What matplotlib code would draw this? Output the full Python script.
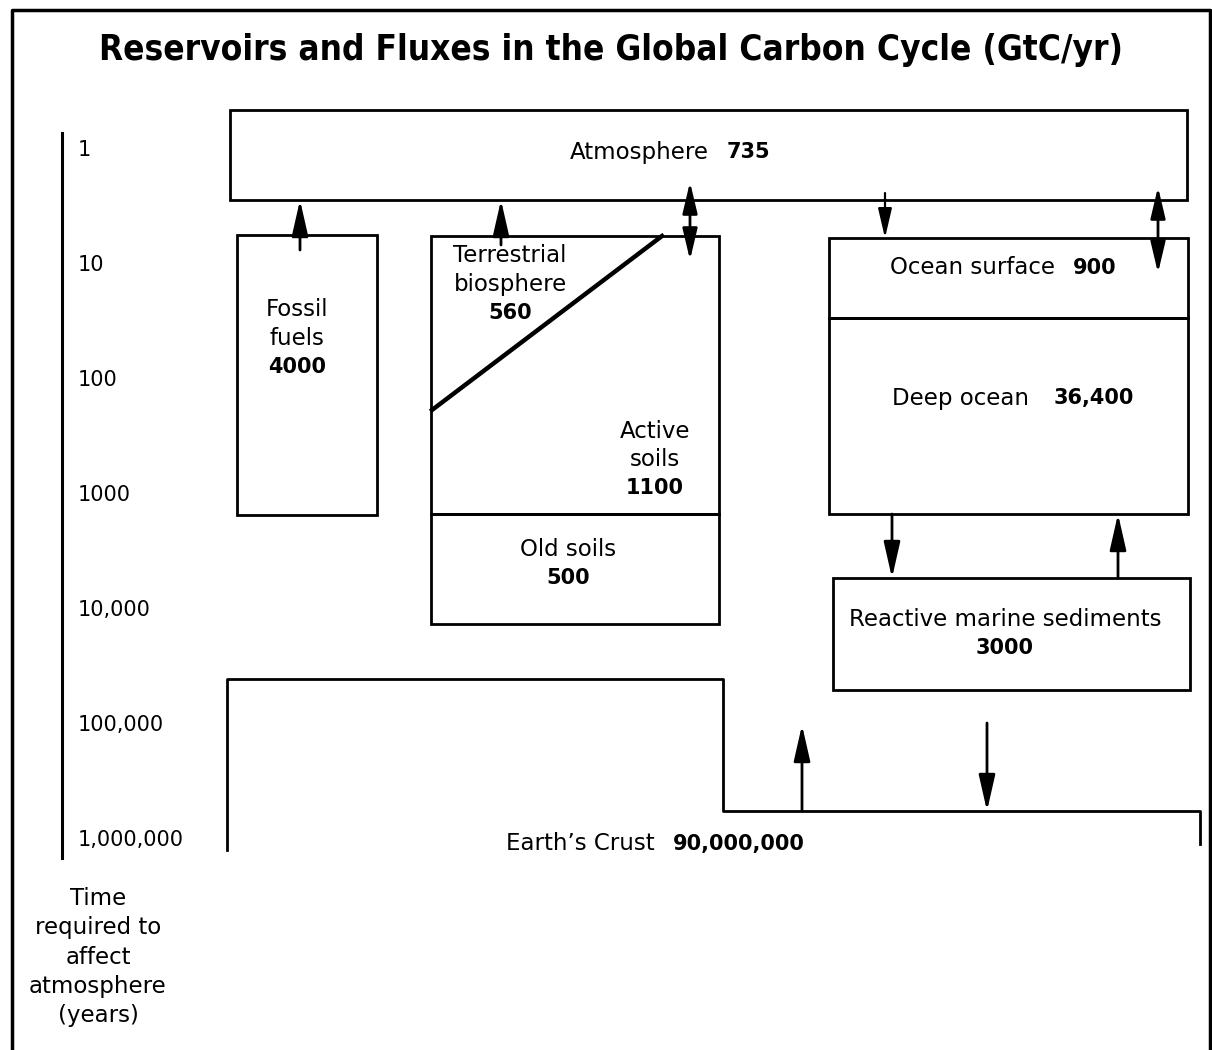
import matplotlib
matplotlib.use('Agg')
import matplotlib.pyplot as plt
import numpy as np
from matplotlib.patches import Rectangle

# Datos: reservorios de carbono (GtC)
reservoir_names = ['Atmosphere', 'Fossil\nfuels', 'Terrestrial\nbiosphere', 'Active\nsoils',
                   'Old soils', 'Ocean surface', 'Deep ocean', 'Reactive marine sediments',
                   'Earth\u2019s Crust']
reservoir_values = ['735', '4000', '560', '1100', '500', '900', '36,400', '3000', '90,000,000']

# Escala de tiempo (años) y etiquetas
time_ticks = [1, 10, 100, 1000, 10000, 100000, 1000000]
time_labels = ['1', '10', '100', '1000', '10,000', '100,000', '1,000,000']
axis_label = 'Time\nrequired to\naffect\natmosphere\n(years)'
title = 'Reservoirs and Fluxes in the Global Carbon Cycle (GtC/yr)'

FONT = ['DejaVu Sans']
FS = 16.5      # nombres
FSB = 15       # valores en negrita
FST = 15       # marcas del eje

fig = plt.figure(figsize=(12.12, 10.5), dpi=100)
ax = fig.add_axes([0, 0, 1, 1])
ax.set_xlim(0, 1212)
ax.set_ylim(1050, 0)
ax.axis('off')

# marco exterior
ax.plot([12, 12, 1210, 1210], [1050, 10, 10, 1050], color='black', lw=2.5)

ax.text(611, 50, title, ha='center', va='center', fontsize=25.2, fontweight='bold',
        family=['Liberation Sans Narrow', 'DejaVu Sans'], fontstretch='condensed')

# eje de tiempo (log)
def t2y(t):
    return 150 + 115 * np.log10(t)

ax.plot([62, 62], [133, 858], color='black', lw=2.2)
for t, lab in zip(time_ticks, time_labels):
    ax.text(78, t2y(t), lab, ha='left', va='center', fontsize=FST, family=FONT)
ax.text(98, 957, axis_label, ha='center', va='center', fontsize=FS, family=FONT,
        linespacing=1.36)

def box(x0, y0, x1, y1, lw=2):
    ax.add_patch(Rectangle((x0, y0), x1 - x0, y1 - y0, fill=False, edgecolor='black', lw=lw))

box(230, 110, 1187, 200)            # atmósfera
box(237, 235, 377, 515)             # combustibles fósiles
box(431, 236, 719, 514)             # biosfera + suelos activos
box(431, 514, 719, 624)             # suelos viejos
ax.plot([432, 662], [410, 236], color='black', lw=3.2)
box(829, 238, 1188, 318)            # océano superficial
box(829, 318, 1188, 514)            # océano profundo
box(833, 578, 1190, 690)            # sedimentos
# corteza terrestre
ax.plot([227, 227, 723, 723, 1200, 1200], [850, 679, 679, 811, 811, 844], color='black', lw=2)

def label(x, y, name, value, stack=False, gap=18):
    if '\n' in name or stack:
        lines = name.split('\n') + [value]
        for i, s in enumerate(lines):
            bold = i == len(lines) - 1
            ax.text(x, y + i * 28.5, s, ha='center', va='center', family=FONT,
                    fontsize=FSB if bold else FS, fontweight='bold' if bold else 'normal')
    else:
        ax.text(x - gap / 2, y, name, ha='right', va='center', fontsize=FS, family=FONT)
        ax.text(x + gap / 2, y, value, ha='left', va='center', fontsize=FSB, family=FONT,
                fontweight='bold')

label(718, 152, reservoir_names[0], reservoir_values[0])
label(297, 310, reservoir_names[1], reservoir_values[1])
label(510, 256, reservoir_names[2], reservoir_values[2])
label(655, 431, reservoir_names[3], reservoir_values[3])
label(568, 549, reservoir_names[4], reservoir_values[4], stack=True)
label(1064, 268, reservoir_names[5], reservoir_values[5])
label(1041, 398, reservoir_names[6], reservoir_values[6], gap=25)
label(1005, 619, reservoir_names[7], reservoir_values[7], stack=True)
label(664, 844, reservoir_names[8], reservoir_values[8])

# flujos
def arrow(x, y0, y1, style='-|>', hl=2.2, hw=0.5, lw=2):
    ax.annotate('', xy=(x, y1), xytext=(x, y0),
                arrowprops=dict(arrowstyle=f'{style},head_length={hl},head_width={hw}',
                                mutation_scale=10, lw=lw, color='black',
                                shrinkA=0, shrinkB=0))

arrow(300, 250, 200)
arrow(501, 245, 200)
arrow(690, 182, 260, style='<|-|>', hl=1.9, hw=0.45)
arrow(885, 193, 238, hl=1.8, hw=0.42, lw=1.6)
arrow(1158, 187, 273, style='<|-|>', hl=1.9, hw=0.45)
arrow(892, 514, 578)
arrow(1118, 578, 514)
arrow(802, 811, 725)
arrow(987, 723, 811)

plt.savefig('out.png', dpi=100)
